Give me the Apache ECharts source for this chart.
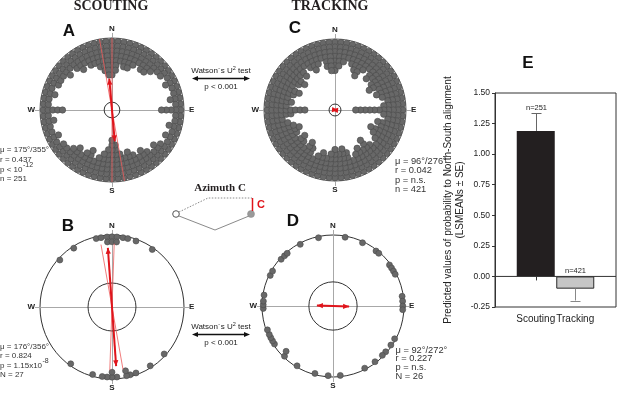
<!DOCTYPE html>
<html>
<head>
<meta charset="utf-8">
<script src="https://cdn.jsdelivr.net/npm/echarts@6/dist/echarts.min.js"></script>
<style>
html,body{margin:0;padding:0;background:#fff;}
#chart{width:617px;height:393px;}
</style>
</head>
<body>
<div id="chart"></div>
<script>
// ================= DATA =================
// Panel A (scouting, all flights): number of stacked dots per 5-degree bin, starting at North, clockwise
const scoutingCountsA = [8,7,5,6,6,5,4,5,5,4,3,3, 2,3,2,2,3,2,5,2,2,3,2,3, 2,3,4,3,4,5,4,5,6,5,6,8,
                         9,7,6,5,4,6,5,4,5,4,3,3, 2,3,2,2,3,2,5,2,2,3,2,3, 3,3,4,3,4,5,4,5,5,6,7,8];
// Panel C (tracking, all flights)
const trackingCountsC = [7,6,5,4,5,6,7,5,4,6,5,6, 7,5,6,5,4,5,11,5,4,6,5,7, 6,5,4,5,7,5,6,5,4,6,7,6,
                         7,6,5,6,5,4,6,7,5,6,7,5, 6,7,6,5,4,6,9,5,6,5,6,7, 5,6,7,5,6,4,5,6,5,4,6,7];
// Panel B (scouting, individuals): angles in degrees
const scoutingAnglesB = [312,327,347,351,356,356,0,0,4,4,9,13,20,35,
                         132,147,160,165,168,168,176,180,180,184,188,196,216];
// Panel D (tracking, individuals): angles in degrees
const trackingAnglesD = [348,10,25,38,41,54,57,60,63,82,86,90,93,118,124,131,135,143,153,174,
                         184,195,211,224,226,237,240,243,246,250,268,271,274,279,296,300,312,316,319,332];

const panelLetters = ['A','B','C','D'];
const meanAngles  = [355, 356, 96, 92];       // mean axis (deg)
const meanLengths = [0.437, 0.824, 0.042, 0.227]; // r
const ciAngles    = [[350, 0], [350, 2], [], []];   // 95% CI limits (deg)
const criticalR   = [0.109, 0.333, 0.084, 0.34];    // Rayleigh critical r (inner circle)

const statsA = ['μ = 175°/355°', 'r = 0.437', ['p < 10', '-12'], 'n = 251'];
const statsB = ['μ = 176°/356°', 'r = 0.824', ['p = 1.15x10', '-8'], 'N = 27'];
const statsC = ['μ = 96°/276°', 'r = 0.042', 'p = n.s.', 'n = 421'];
const statsD = ['μ = 92°/272°', 'r = 0.227', 'p = n.s.', 'N = 26'];

// Panel E bar chart
const barCategories = ['Scouting', 'Tracking'];
const barMeans = [1.19, -0.10];
const barSE    = [0.145, 0.097];
const barN     = [251, 421];
const barColors = ['#231f20', '#c6c6c6'];
const yMin = -0.25, yMax = 1.5, yStep = 0.25;

// ================= HELPERS =================
const FONT = '"Liberation Sans", Arial, sans-serif';
const SERIF = '"Liberation Serif", "Times New Roman", serif';
const measureCtx = document.createElement('canvas').getContext('2d');
function textWidth(t, font){ measureCtx.font = font; return measureCtx.measureText(t).width; }

const panels = [
  {center:[112,110], R:72, rim:'#555', first:3.3, step:4.8, size:6.4},
  {center:[112,307], R:72, rim:'#333', first:1.8, step:5.0, size:6},
  {center:[335,110], R:71, rim:'#555', first:3.3, step:4.7, size:6.4},
  {center:[333,306], R:71, rim:'#333', first:1.2, step:4.6, size:6}
];

function dotsFromCounts(counts, p){
  const out = [];
  counts.forEach((k, i) => {
    const a = i * 5;
    for (let j = 0; j < k; j++) out.push([(p.R - p.first - j * p.step) / p.R, a]);
  });
  return out;
}
function dotsFromAngles(angles, p, width){
  const seen = {}; const out = [];
  angles.forEach(a => {
    const b = (Math.round(a / width) * width) % 360;
    const j = seen[b] || 0; seen[b] = j + 1;
    out.push([(p.R - p.first - j * p.step) / p.R, a]);
  });
  return out;
}
const dotData = [
  dotsFromCounts(scoutingCountsA, panels[0]),
  dotsFromAngles(scoutingAnglesB, panels[1], 4),
  dotsFromCounts(trackingCountsC, panels[2]),
  dotsFromAngles(trackingAnglesD, panels[3], 3)
];

function h(v){ return Math.round(v) + 0.5; }

function frameRender(params, api){
  const n = api.coord([1.07, 0]), s = api.coord([1.07, 180]);
  const e = api.coord([1.07, 90]), w = api.coord([1.07, 270]);
  return {type:'group', children:[
    {type:'line', shape:{x1:h(n[0]), y1:n[1], x2:h(s[0]), y2:s[1]}, style:{stroke:'#a8a8a8', lineWidth:1}},
    {type:'line', shape:{x1:w[0], y1:h(w[1]), x2:e[0], y2:h(e[1])}, style:{stroke:'#a8a8a8', lineWidth:1}}
  ]};
}
function innerRender(params, api){
  const c = api.coord([0, 0]);
  const q = api.coord([api.value(0), 90]);
  const r = Math.hypot(q[0] - c[0], q[1] - c[1]);
  return {type:'circle', shape:{cx:c[0], cy:c[1], r:r}, style:{fill:'none', stroke:'#333', lineWidth:1}};
}
function arrowHead(tip, dir, len, half, color){
  const px = -dir[1], py = dir[0];
  return {type:'polygon', shape:{points:[
    [tip[0], tip[1]],
    [tip[0] - dir[0]*len + px*half, tip[1] - dir[1]*len + py*half],
    [tip[0] - dir[0]*len - px*half, tip[1] - dir[1]*len - py*half]
  ]}, style:{fill:color}};
}
function vectorRender(params, api){
  const r = api.value(0), a = api.value(1);
  const p1 = api.coord([r, a]), p2 = api.coord([r, (a + 180) % 360]);
  let dx = p1[0] - p2[0], dy = p1[1] - p2[1];
  const L = Math.hypot(dx, dy) || 1; dx /= L; dy /= L;
  const col = '#e0141b';
  return {type:'group', children:[
    {type:'line', shape:{x1:p1[0], y1:p1[1], x2:p2[0], y2:p2[1]}, style:{stroke:col, lineWidth:2}},
    arrowHead(p1, [dx, dy], 6, 2.6, col),
    arrowHead(p2, [-dx, -dy], 6, 2.6, col)
  ]};
}
function ciRender(params, api){
  const r = api.value(0), a = api.value(1);
  const p1 = api.coord([r, a]), p2 = api.coord([r, (a + 180) % 360]);
  return {type:'line', shape:{x1:p1[0], y1:p1[1], x2:p2[0], y2:p2[1]}, style:{stroke:'#ee5a5a', lineWidth:0.8}};
}

// ================= POLAR OPTIONS =================
const polar = [], angleAxis = [], radiusAxis = [], series = [];
const ciLen = [1.0, 0.88, 0.9, 0.9];
panels.forEach((p, i) => {
  polar.push({center:p.center, radius:p.R});
  angleAxis.push({
    polarIndex:i, type:'value', min:0, max:360, interval:90, startAngle:90, clockwise:true,
    axisLine:{show:true, lineStyle:{color:p.rim, width:1}},
    axisTick:{show:false}, splitLine:{show:false}, splitArea:{show:false},
    axisLabel:{show:true, margin:5, fontSize:8, fontWeight:'bold', fontFamily:FONT, color:'#222',
      formatter: v => ({0:'N', 90:'E', 180:'S', 270:'W'})[v] || ''}
  });
  radiusAxis.push({polarIndex:i, type:'value', min:0, max:1, show:false,
    axisLine:{show:false}, axisTick:{show:false}, axisLabel:{show:false}, splitLine:{show:false}});
  series.push({type:'custom', coordinateSystem:'polar', polarIndex:i, z:1, silent:true,
    data:[[0, 0]], renderItem:frameRender});
  series.push({type:'scatter', coordinateSystem:'polar', polarIndex:i, z:3, silent:true,
    symbolSize:p.size, data:dotData[i],
    itemStyle:{color:'#686868', borderColor:'#4a4a4a', borderWidth:0.6, opacity:1}});
  series.push({type:'custom', coordinateSystem:'polar', polarIndex:i, z:4, silent:true,
    data:[[criticalR[i], 0]], renderItem:innerRender});
  if (ciAngles[i].length) {
    series.push({type:'custom', coordinateSystem:'polar', polarIndex:i, z:5, silent:true,
      data:ciAngles[i].map(a => [ciLen[i], a]), renderItem:ciRender});
  }
  series.push({type:'custom', coordinateSystem:'polar', polarIndex:i, z:6, silent:true,
    data:[[meanLengths[i], meanAngles[i]]], renderItem:vectorRender});
});

// ================= BAR CHART (E) =================
const frameTop = 93, frameHeight = 214;
const grid = [
  {left:495, top:frameTop, width:121, height:frameHeight, show:true, borderColor:'#333', borderWidth:1, backgroundColor:'transparent'},
  {left:516, top:frameTop, width:79, height:frameHeight, show:false}
];
const xAxis = [
  {gridIndex:0, type:'value', min:0, max:1, show:false},
  {gridIndex:1, type:'category', data:barCategories,
   axisLine:{show:false}, axisTick:{show:true, alignWithLabel:true, length:4, lineStyle:{color:'#333'}},
   axisLabel:{interval:0, hideOverlap:false, fontSize:10, fontFamily:FONT, color:'#222', margin:7}}
];
const yAxis = [
  {gridIndex:0, type:'value', min:yMin, max:yMax, interval:yStep,
   axisLine:{show:true, lineStyle:{color:'#333'}},
   axisTick:{show:true, length:3, lineStyle:{color:'#333'}},
   axisLabel:{fontSize:8.5, fontFamily:FONT, color:'#222', margin:5, formatter: v => v.toFixed(2)},
   splitLine:{show:false},
   name:'Predicted values of probability to North-South alignment\n(LSMEANs ± SE)',
   nameLocation:'middle', nameRotate:90, nameGap:24,
   nameTextStyle:{fontSize:10, fontFamily:FONT, color:'#222', lineHeight:12, align:'center'}},
  {gridIndex:1, type:'value', min:yMin, max:yMax, interval:yStep, show:false}
];
series.push({type:'line', xAxisIndex:0, yAxisIndex:0, data:[[0, 0], [1, 0]], symbol:'none', silent:true,
  lineStyle:{color:'#333', width:1}, z:4});
series.push({type:'bar', xAxisIndex:1, yAxisIndex:1, barWidth:38, silent:true, z:2,
  data:barMeans.map((v, i) => ({value:v, itemStyle:{color:barColors[i], borderColor:'#2a2a2a', borderWidth:i ? 1 : 0}}))});
series.push({type:'custom', xAxisIndex:1, yAxisIndex:1, z:5, silent:true,
  data:barMeans.map((v, i) => [i, v, barSE[i], barN[i]]),
  renderItem:function(params, api){
    const i = api.value(0), m = api.value(1), se = api.value(2), n = api.value(3);
    const end = m + (m >= 0 ? se : -se);
    const p0 = api.coord([i, m]), p1 = api.coord([i, end]);
    const lab = api.coord([i, Math.max(m, end, 0)]);
    const x = Math.round(p0[0]) + 0.5;
    const col = m >= 0 ? '#666' : '#888';
    return {type:'group', children:[
      {type:'line', shape:{x1:x, y1:p0[1], x2:x, y2:p1[1]}, style:{stroke:col, lineWidth:1}},
      {type:'line', shape:{x1:x - 5, y1:Math.round(p1[1]) + 0.5, x2:x + 5, y2:Math.round(p1[1]) + 0.5}, style:{stroke:col, lineWidth:1}},
      {type:'text', x:x, y:lab[1] - 1, style:{text:'n=' + n, fill:'#222', font:'7.5px ' + FONT, align:'center', verticalAlign:'bottom'}}
    ]};
  }});

// ================= ANNOTATIONS =================
const graphic = [];
function txt(x, y, text, font, fill, align, va){
  graphic.push({type:'text', x:x, y:y, z:50, silent:true, style:{text:text, font:font, fill:fill || '#222', align:align || 'left', verticalAlign:va || 'middle'}});
}
txt(111, 6, 'SCOUTING', 'bold 14px ' + SERIF, '#231f20', 'center');
txt(330, 6, 'TRACKING', 'bold 14px ' + SERIF, '#231f20', 'center');
const letterPos = [[69, 31], [68, 226], [295, 28], [293, 221]];
panelLetters.forEach((L, i) => txt(letterPos[i][0], letterPos[i][1], L, 'bold 17px ' + FONT, '#111', 'center'));
txt(528, 63, 'E', 'bold 17px ' + FONT, '#111', 'center');

function statsBlock(lines, x, ys, size){
  const f = size + 'px ' + FONT;
  lines.forEach((ln, k) => {
    if (Array.isArray(ln)) {
      txt(x, ys[k], ln[0], f, '#333');
      txt(x + textWidth(ln[0], f) + 0.5, ys[k] - 4, ln[1], '7px ' + FONT, '#333');
    } else txt(x, ys[k], ln, f, '#333');
  });
}
statsBlock(statsA, 0, [150, 159.5, 169.5, 179], 8);
statsBlock(statsB, 0, [347, 356, 365.5, 374.5], 8);
statsBlock(statsC, 395, [161, 170.5, 180, 189], 9.3);
statsBlock(statsD, 395.5, [350, 358.5, 367.5, 376.5], 9.3);

function watson(yText){
  const f = '8px ' + FONT;
  const base = 'Watson´s U';
  const w1 = textWidth(base, f), w2 = textWidth('2', '5.5px ' + FONT), w3 = textWidth(' test', f);
  const x0 = 221 - (w1 + w2 + w3) / 2;
  txt(x0, yText, base, f, '#222');
  txt(x0 + w1, yText - 3, '2', '5.5px ' + FONT, '#222');
  txt(x0 + w1 + w2, yText, ' test', f, '#222');
  const ya = yText + 7.5;
  graphic.push({type:'line', silent:true, shape:{x1:197, y1:ya, x2:245, y2:ya}, style:{stroke:'#111', lineWidth:1.3}});
  graphic.push({type:'polygon', silent:true, shape:{points:[[192, ya], [198, ya - 2.5], [198, ya + 2.5]]}, style:{fill:'#111'}});
  graphic.push({type:'polygon', silent:true, shape:{points:[[250, ya], [244, ya - 2.5], [244, ya + 2.5]]}, style:{fill:'#111'}});
  txt(221, yText + 16, 'p < 0.001', f, '#222', 'center');
}
watson(71);
watson(327);

// Azimuth C inset
txt(220, 188, 'Azimuth C', 'bold 11px ' + SERIF, '#231f20', 'center');
graphic.push({type:'polyline', silent:true, shape:{points:[[179, 212], [208, 198], [252, 198]]},
  style:{stroke:'#8a8a8a', lineWidth:1, lineDash:[1.5, 1.5], fill:null}});
graphic.push({type:'polyline', silent:true, shape:{points:[[179, 216], [215, 230], [249, 216]]},
  style:{stroke:'#8a8a8a', lineWidth:1, fill:null}});
graphic.push({type:'circle', silent:true, shape:{cx:176, cy:214, r:3.3}, style:{fill:'#fff', stroke:'#555', lineWidth:1}});
graphic.push({type:'circle', silent:true, shape:{cx:251, cy:214, r:3.5}, style:{fill:'#9a9a9a', stroke:'#888', lineWidth:0.5}});
graphic.push({type:'line', silent:true, shape:{x1:252.5, y1:198, x2:252.5, y2:211}, style:{stroke:'#e0141b', lineWidth:1.5}});
txt(257, 205, 'C', 'bold 11px ' + FONT, '#e0141b', 'left');

// ================= CHART =================
const chart = echarts.init(document.getElementById('chart'), null, {renderer:'canvas', width:617, height:393});
chart.setOption({
  animation:false,
  backgroundColor:'#fff',
  polar:polar, angleAxis:angleAxis, radiusAxis:radiusAxis,
  grid:grid, xAxis:xAxis, yAxis:yAxis,
  series:series,
  graphic:graphic
});
</script>
</body>
</html>
